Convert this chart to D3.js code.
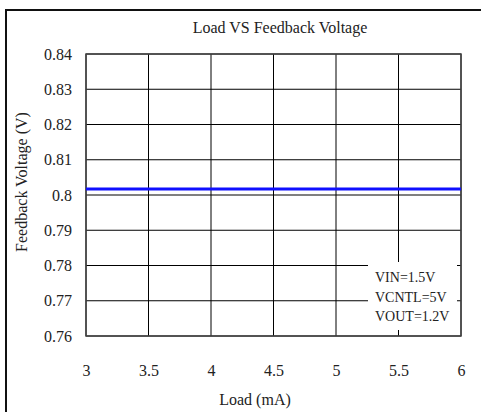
<!DOCTYPE html>
<html>
<head>
<meta charset="utf-8">
<script src="https://cdn.jsdelivr.net/npm/d3@7"></script>
<style>
  body { margin: 0; background: #fff; }
  svg text { font-family: 'Liberation Serif', 'Times New Roman', serif; fill: #222; }
</style>
</head>
<body>
<div id="chart"></div>
<script>
// Data
const loadValues = [3, 3.5, 4, 4.5, 5, 5.5, 6];
const feedbackValues = [0.8017, 0.8017, 0.8017, 0.8017, 0.8017, 0.8017, 0.8017];
const xTicks = [3, 3.5, 4, 4.5, 5, 5.5, 6];
const yTicks = [0.76, 0.77, 0.78, 0.79, 0.8, 0.81, 0.82, 0.83, 0.84];
const conditions = ["VIN=1.5V", "VCNTL=5V", "VOUT=1.2V"];

const W = 481, H = 412;
const plot = { left: 86, top: 54, right: 461, bottom: 336 };
const serif = "'Liberation Serif', 'Times New Roman', serif";

const svg = d3.select("#chart")
    .append("svg")
    .attr("width", W)
    .attr("height", H);

// Outer frame (only top and left are visible)
svg.append("path")
    .attr("d", `M6,${H + 5}V10H${W + 5}`)
    .attr("fill", "none")
    .attr("stroke", "#111")
    .attr("stroke-width", 2);

const x = d3.scaleLinear().domain([3, 6]).range([plot.left, plot.right]);
const y = d3.scaleLinear().domain([0.76, 0.84]).range([plot.bottom, plot.top]);

// Grid
const grid = svg.append("g");
grid.selectAll(".vg")
    .data(xTicks)
    .enter().append("line")
    .attr("x1", d => x(d)).attr("x2", d => x(d))
    .attr("y1", plot.top).attr("y2", plot.bottom)
    .attr("stroke", "#000")
    .attr("stroke-width", 1);
grid.selectAll(".hg")
    .data(yTicks)
    .enter().append("line")
    .attr("x1", plot.left).attr("x2", plot.right)
    .attr("y1", d => y(d)).attr("y2", d => y(d))
    .attr("stroke", "#000")
    .attr("stroke-width", 1);

// Plot border
svg.append("rect")
    .attr("x", plot.left).attr("y", plot.top)
    .attr("width", plot.right - plot.left)
    .attr("height", plot.bottom - plot.top)
    .attr("fill", "none")
    .attr("stroke", "#444")
    .attr("stroke-width", 1.5);

// Tick labels
const xAxis = svg.append("g")
    .attr("transform", `translate(0,${plot.bottom})`)
    .call(d3.axisBottom(x).tickValues(xTicks).tickSize(0).tickPadding(29).tickFormat(d3.format("")))
    .attr("font-family", serif)
    .attr("font-size", 16);
xAxis.select(".domain").remove();
xAxis.selectAll("text").attr("fill", "#222");

const yAxis = svg.append("g")
    .attr("transform", `translate(${plot.left},0)`)
    .call(d3.axisLeft(y).tickValues(yTicks).tickSize(0).tickPadding(14).tickFormat(d3.format("")))
    .attr("font-family", serif)
    .attr("font-size", 16);
yAxis.select(".domain").remove();
yAxis.selectAll("text").attr("fill", "#222");

// Feedback line
const line = d3.line()
    .x((d, i) => x(loadValues[i]))
    .y(d => y(d));

svg.append("path")
    .datum(feedbackValues)
    .attr("fill", "none")
    .attr("stroke", "#1010ff")
    .attr("stroke-width", 3)
    .attr("d", line);

// Conditions box
svg.append("rect")
    .attr("x", 368).attr("y", 262)
    .attr("width", 89).attr("height", 68)
    .attr("fill", "#fff");
svg.selectAll(".cond")
    .data(conditions)
    .enter().append("text")
    .attr("x", 375)
    .attr("y", (d, i) => 282 + i * 19.5)
    .attr("font-size", 14)
    .text(d => d);

// Title
svg.append("text")
    .attr("x", 280).attr("y", 33)
    .attr("text-anchor", "middle")
    .attr("font-size", 16)
    .text("Load VS Feedback Voltage");

// Axis titles
svg.append("text")
    .attr("x", 255).attr("y", 405)
    .attr("text-anchor", "middle")
    .attr("font-size", 16)
    .text("Load (mA)");

svg.append("text")
    .attr("transform", "translate(27,182) rotate(-90)")
    .attr("text-anchor", "middle")
    .attr("font-size", 16)
    .text("Feedback Voltage (V)");
</script>
</body>
</html>
